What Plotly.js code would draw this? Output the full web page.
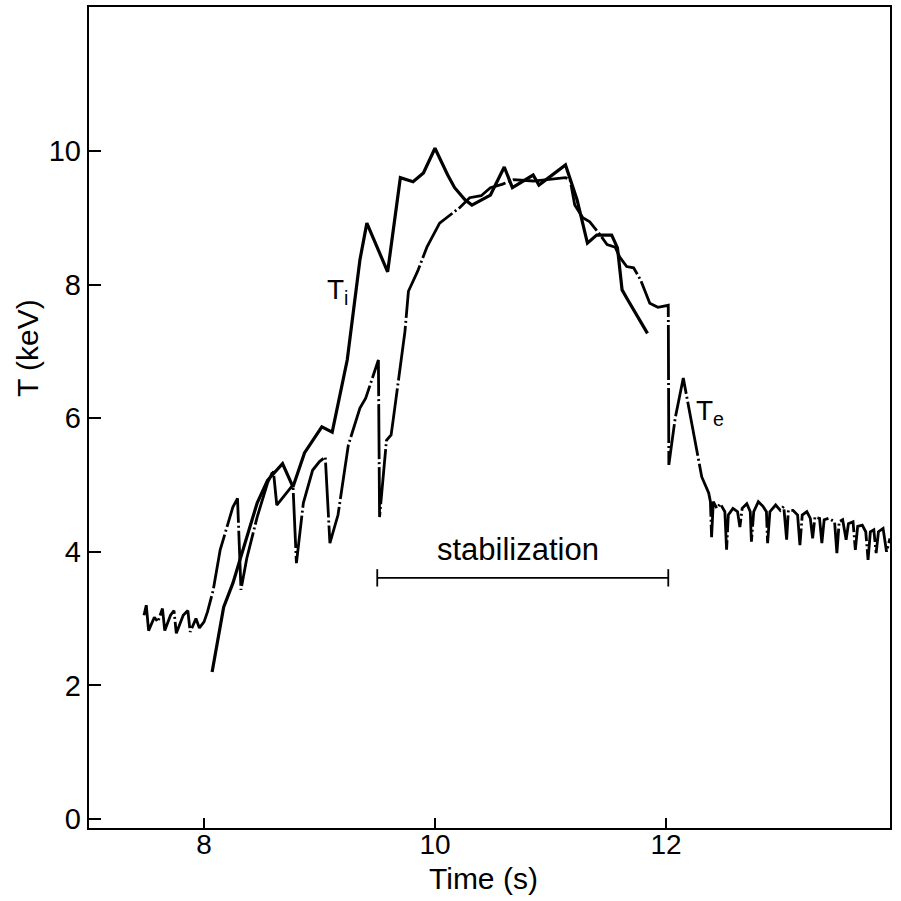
<!DOCTYPE html>
<html>
<head>
<meta charset="utf-8">
<script src="https://cdn.plot.ly/plotly-3.0.1.min.js"></script>
<style>html,body{margin:0;padding:0;background:#fff;}#chart{width:901px;height:901px;}</style>
</head>
<body>
<div id="chart"></div>
<script>
// Ion temperature T_i (solid)
var tiTime = [8.07, 8.17, 8.25, 8.31, 8.37, 8.46, 8.55, 8.63, 8.68, 8.77, 8.87, 9.02, 9.11, 9.24, 9.35, 9.41, 9.59, 9.70, 9.81, 9.90, 10.00, 10.11, 10.17, 10.26, 10.32, 10.48, 10.60, 10.67, 10.76, 10.85, 10.90, 11.13, 11.23, 11.32, 11.40, 11.53, 11.58, 11.62, 11.67, 11.84];
var tiTemp = [2.2, 3.17, 3.53, 3.88, 4.22, 4.73, 5.07, 5.22, 5.32, 4.97, 5.48, 5.87, 5.79, 6.87, 8.37, 8.92, 8.19, 9.6, 9.54, 9.67, 10.04, 9.64, 9.45, 9.27, 9.19, 9.34, 9.76, 9.45, 9.55, 9.64, 9.49, 9.79, 9.27, 8.62, 8.74, 8.74, 8.55, 7.92, 7.77, 7.27];

// Electron temperature T_e (dash-dot)
var teTime = [7.48, 7.50, 7.52, 7.57, 7.60, 7.64, 7.66, 7.71, 7.74, 7.76, 7.82, 7.86, 7.88, 7.93, 7.96, 8.00, 8.03, 8.08, 8.14, 8.20, 8.25, 8.29, 8.32, 8.37, 8.46, 8.55, 8.60, 8.63, 8.72, 8.77, 8.80, 8.86, 8.94, 9.00, 9.05, 9.09, 9.16, 9.25, 9.35, 9.40, 9.51, 9.52, 9.58, 9.62, 9.64, 9.74, 9.77, 9.85, 9.93, 10.04, 10.22, 10.30, 10.40, 10.48, 10.58, 10.68, 10.85, 11.00, 11.13, 11.17, 11.21, 11.28, 11.34, 11.41, 11.49, 11.56, 11.60, 11.66, 11.72, 11.78, 11.86, 11.93, 12.02, 12.025, 12.08, 12.15, 12.31, 12.37,
  12.385, 12.395, 12.41, 12.44, 12.47, 12.51, 12.525, 12.54, 12.58, 12.62, 12.64, 12.66, 12.70, 12.73, 12.74, 12.76, 12.80, 12.84, 12.87, 12.88, 12.90, 12.95, 12.99, 13.02, 13.045, 13.06, 13.10, 13.14, 13.16, 13.18, 13.22, 13.25, 13.27, 13.29, 13.33, 13.35, 13.37, 13.41, 13.46, 13.48, 13.50, 13.53, 13.56, 13.58, 13.62, 13.64, 13.66, 13.70, 13.73, 13.75, 13.77, 13.80, 13.82, 13.84, 13.88, 13.91, 13.94];
var teTemp = [3.05, 3.2, 2.82, 3.02, 2.95, 3.15, 2.82, 3.05, 3.12, 2.78, 3.05, 3.12, 2.8, 3.0, 2.86, 2.95, 3.1, 3.43, 4.03, 4.4, 4.67, 4.8, 3.43, 3.9, 4.52, 5.03, 5.22, 4.7, 4.9, 5.0, 3.83, 4.73, 5.22, 5.35, 5.42, 4.13, 4.55, 5.6, 6.15, 6.3, 6.87, 4.52, 5.67, 5.75, 6.0, 7.3, 7.9, 8.2, 8.56, 8.92, 9.16, 9.3, 9.33, 9.45, 9.5, 9.57, 9.55, 9.58, 9.6, 9.57, 9.19, 9.0, 8.94, 8.79, 8.6, 8.56, 8.41, 8.27, 8.25, 8.07, 7.72, 7.66, 7.69, 5.3, 6.0, 6.6, 5.12, 4.88,
  4.75, 4.22, 4.75, 4.65, 4.72, 4.6, 4.03, 4.55, 4.65, 4.6, 4.37, 4.65, 4.72, 4.6, 4.15, 4.6, 4.75, 4.68, 4.6, 4.13, 4.6, 4.7, 4.62, 4.68, 4.18, 4.62, 4.62, 4.55, 4.1, 4.55, 4.6, 4.5, 4.2, 4.52, 4.5, 4.13, 4.48, 4.5, 4.45, 3.98, 4.45, 4.48, 4.18, 4.42, 4.45, 4.03, 4.38, 4.4, 4.3, 3.88, 4.3, 4.33, 3.98, 4.3, 4.35, 4.0, 4.2];

// Axis ticks
var xTicks = [8, 10, 12];
var yTicks = [0, 2, 4, 6, 8, 10];

// Stabilization interval (s) and the level of its bracket (keV)
var stabilization = [9.5, 12.02];
var bracketLevel = 3.61;

var font = "'Liberation Sans', Arial, Helvetica, sans-serif";

var traces = [
  {x: tiTime, y: tiTemp, mode: 'lines', name: 'T_i', line: {color: '#000', width: 3.2}},
  {x: teTime, y: teTemp, mode: 'lines', name: 'T_e', line: {color: '#000', width: 2.8, dash: '55px,3px,2px,3px'}}
];

var shapes = [
  {type: 'line', xref: 'x', yref: 'y', x0: stabilization[0], x1: stabilization[1], y0: bracketLevel, y1: bracketLevel, line: {color: '#000', width: 1.8}},
  {type: 'line', xref: 'x', yref: 'y', x0: stabilization[0], x1: stabilization[0], y0: bracketLevel - 0.13, y1: bracketLevel + 0.13, line: {color: '#000', width: 1.8}},
  {type: 'line', xref: 'x', yref: 'y', x0: stabilization[1], x1: stabilization[1], y0: bracketLevel - 0.13, y1: bracketLevel + 0.13, line: {color: '#000', width: 1.8}}
];

var annotations = [
  {x: (stabilization[0] + stabilization[1]) / 2 - 0.04, y: 4.03, xref: 'x', yref: 'y', text: 'stabilization', showarrow: false, font: {family: font, size: 31, color: '#000'}},
  {x: 9.16, y: 7.9, xref: 'x', yref: 'y', text: 'T<sub>i</sub>', showarrow: false, font: {family: font, size: 28, color: '#000'}},
  {x: 12.38, y: 6.08, xref: 'x', yref: 'y', text: 'T<sub>e</sub>', showarrow: false, font: {family: font, size: 28, color: '#000'}},
  {x: -0.077, y: 0.585, xref: 'paper', yref: 'paper', text: 'T (keV)', textangle: -90, showarrow: false, xanchor: 'center', yanchor: 'middle', font: {family: font, size: 30, color: '#000'}},
  {x: 0.493, y: -0.0402, xref: 'paper', yref: 'paper', text: 'Time (s)', showarrow: false, xanchor: 'center', yanchor: 'top', borderpad: 0, font: {family: font, size: 30, color: '#000'}}
];

var layout = {
  width: 901, height: 901,
  margin: {l: 89, r: 11, t: 7, b: 73},
  paper_bgcolor: '#fff', plot_bgcolor: '#fff',
  showlegend: false,
  font: {family: font, color: '#000'},
  xaxis: {
    range: [7.004, 13.94], tickvals: xTicks, ticktext: xTicks.map(String),
    ticks: 'inside', ticklen: 10, tickwidth: 2, tickcolor: '#000',
    showline: true, linewidth: 2.2, linecolor: '#000', mirror: true,
    showgrid: false, zeroline: false, ticklabelstandoff: -10,
    tickfont: {family: font, size: 28, color: '#000'}
  },
  yaxis: {
    range: [-0.135, 12.155], tickvals: yTicks, ticktext: yTicks.map(String),
    ticks: 'inside', ticklen: 12, tickwidth: 2, tickcolor: '#000',
    showline: true, linewidth: 2.2, linecolor: '#000', mirror: true,
    showgrid: false, zeroline: false,
    tickfont: {family: font, size: 29, color: '#000'}
  },
  shapes: shapes,
  annotations: annotations
};

Plotly.newPlot('chart', traces, layout, {staticPlot: true, displayModeBar: false});
</script>
</body>
</html>
